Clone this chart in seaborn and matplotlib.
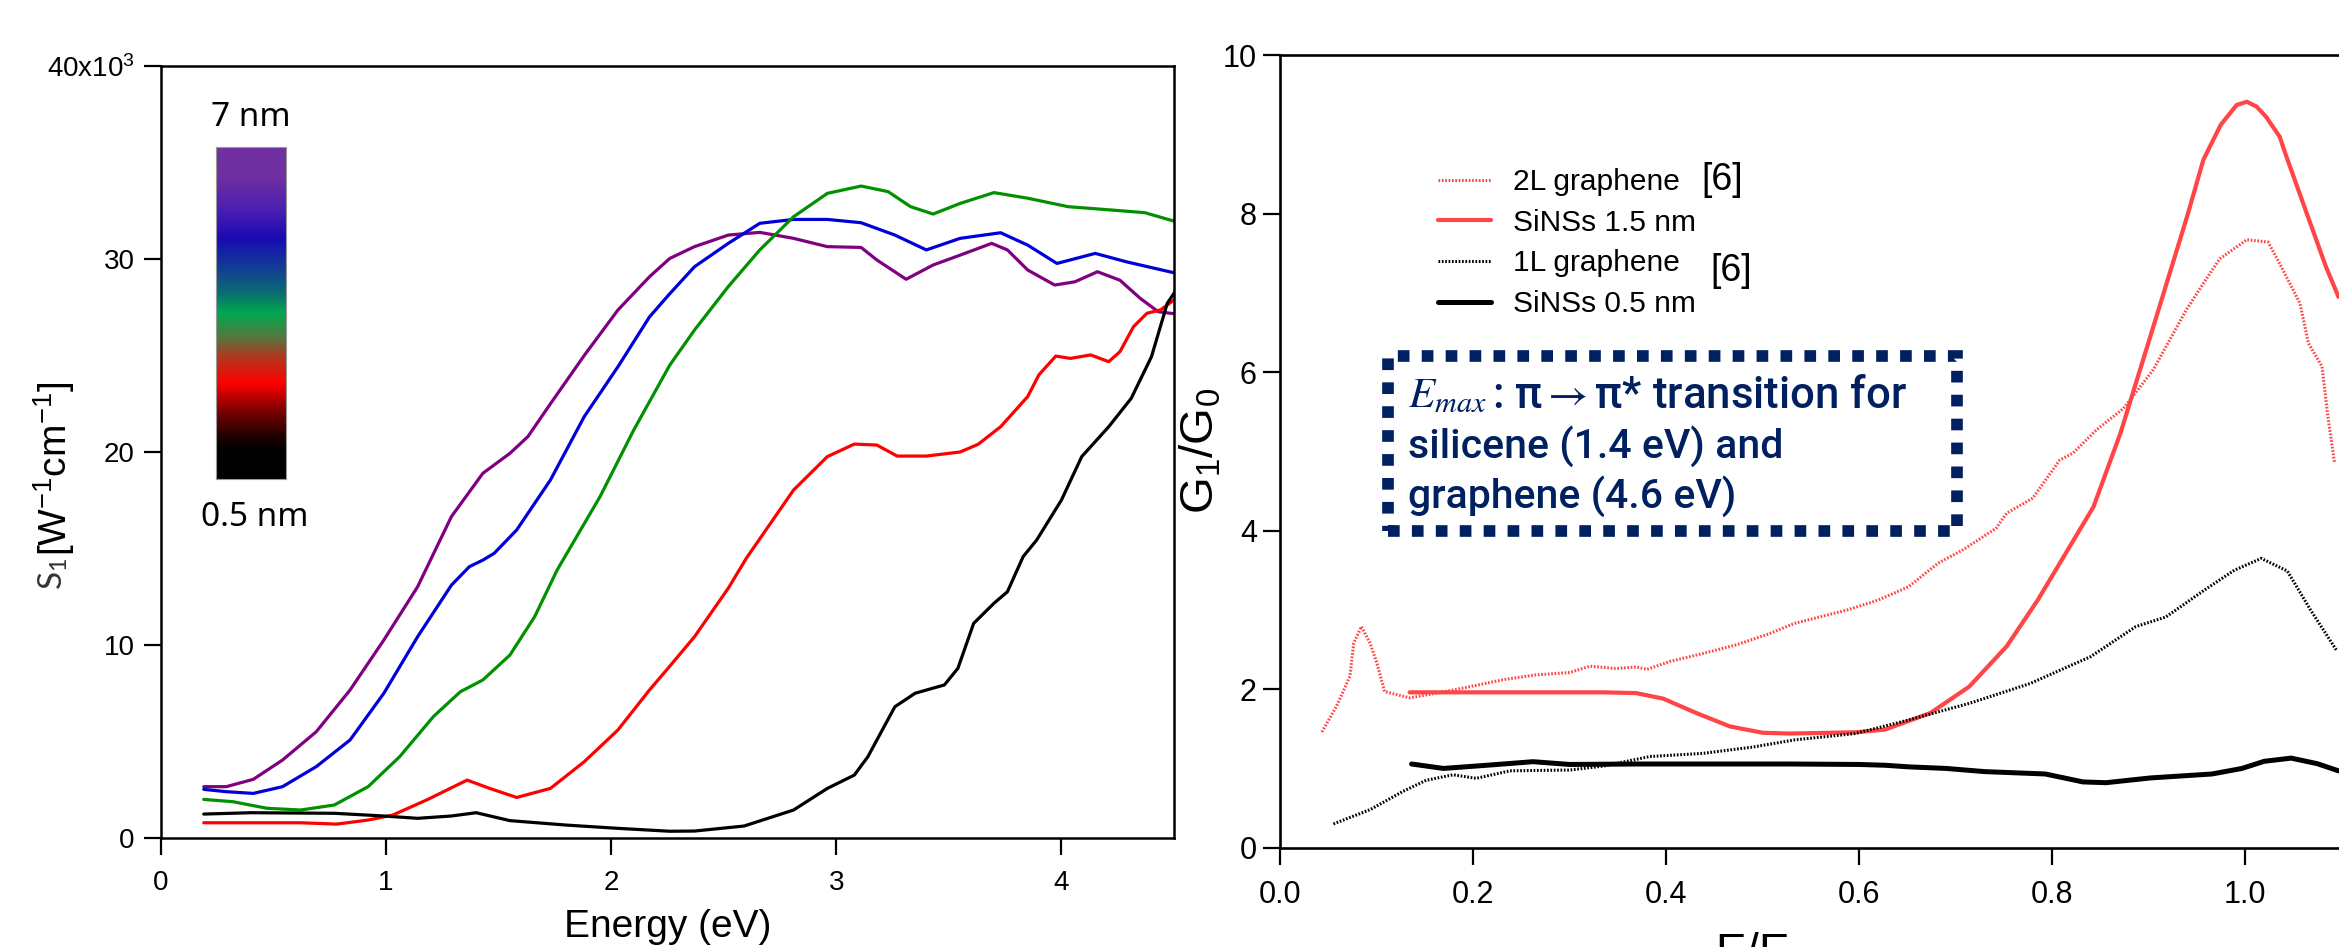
import numpy as np
import pandas as pd
import matplotlib
matplotlib.use("Agg")
import matplotlib.pyplot as plt
import seaborn as sns
from matplotlib.colors import LinearSegmentedColormap
from matplotlib.patches import Rectangle

# ---------------- data: left panel (S1, units of 10^3 W^-1 cm^-1) ----------------
e_7nm = [0.19, 0.29, 0.41, 0.54, 0.69, 0.84, 0.99, 1.14, 1.23, 1.29, 1.43, 1.55, 1.63, 1.73, 1.88,
         2.03, 2.17, 2.26, 2.37, 2.52, 2.66, 2.81, 2.96, 3.11, 3.18, 3.31, 3.43, 3.55, 3.69, 3.76,
         3.85, 3.97, 4.06, 4.16, 4.26, 4.35, 4.43, 4.51]
s_7nm = [2.66, 2.66, 3.04, 4.04, 5.51, 7.67, 10.26, 13.02, 15.2, 16.65, 18.9, 19.93, 20.8, 22.5, 25.0,
         27.36, 29.08, 30.03, 30.64, 31.24, 31.38, 31.07, 30.64, 30.6, 29.95, 28.95, 29.69, 30.2, 30.81, 30.47,
         29.43, 28.65, 28.82, 29.34, 28.9, 27.96, 27.27, 27.15]

e_blue = [0.19, 0.29, 0.41, 0.54, 0.69, 0.84, 0.99, 1.14, 1.29, 1.37, 1.43, 1.48, 1.58, 1.73, 1.88,
          2.03, 2.17, 2.26, 2.37, 2.52, 2.66, 2.81, 2.96, 3.11, 3.26, 3.40, 3.55, 3.73, 3.85, 3.98,
          4.15, 4.29, 4.51]
s_blue = [2.52, 2.40, 2.31, 2.66, 3.7, 5.08, 7.5, 10.43, 13.1, 14.06, 14.4, 14.75, 15.96, 18.55, 21.83,
          24.42, 27.0, 28.2, 29.6, 30.81, 31.85, 32.05, 32.05, 31.88, 31.24, 30.47, 31.07, 31.36, 30.72, 29.77,
          30.29, 29.85, 29.26]

e_green = [0.19, 0.32, 0.47, 0.62, 0.77, 0.92, 1.06, 1.21, 1.33, 1.43, 1.55, 1.66, 1.76, 1.95, 2.10,
           2.26, 2.37, 2.52, 2.66, 2.81, 2.96, 3.11, 3.23, 3.33, 3.43, 3.55, 3.70, 3.85, 4.03, 4.22,
           4.37, 4.51]
s_green = [2.0, 1.88, 1.54, 1.45, 1.71, 2.66, 4.21, 6.29, 7.58, 8.19, 9.48, 11.47, 13.89, 17.68, 21.14,
           24.5, 26.32, 28.57, 30.47, 32.19, 33.4, 33.78, 33.49, 32.71, 32.33, 32.88, 33.44, 33.15, 32.71, 32.54,
           32.4, 31.93]

e_red = [0.19, 0.40, 0.62, 0.78, 0.92, 1.03, 1.18, 1.36, 1.46, 1.58, 1.73, 1.88, 2.03, 2.17, 2.26,
         2.37, 2.52, 2.60, 2.81, 2.96, 3.08, 3.18, 3.27, 3.40, 3.55, 3.63, 3.73, 3.85, 3.90, 3.975,
         4.04, 4.13, 4.21, 4.26, 4.32, 4.38, 4.44, 4.51]
s_red = [0.79, 0.79, 0.79, 0.72, 0.93, 1.19, 1.97, 3.0, 2.57, 2.1, 2.57, 3.95, 5.6, 7.67, 8.9,
         10.43, 12.94, 14.49, 18.03, 19.76, 20.41, 20.36, 19.79, 19.79, 20.0, 20.4, 21.31, 22.87, 24.0, 24.97,
         24.85, 25.03, 24.68, 25.2, 26.49, 27.19, 27.36, 27.96]

e_black = [0.19, 0.40, 0.77, 0.99, 1.14, 1.29, 1.40, 1.55, 1.80, 2.03, 2.26, 2.37, 2.59, 2.81, 2.96,
           3.08, 3.14, 3.26, 3.35, 3.48, 3.54, 3.61, 3.70, 3.76, 3.83, 3.89, 4.00, 4.09, 4.21, 4.31,
           4.40, 4.47, 4.51]
s_black = [1.24, 1.31, 1.28, 1.14, 1.02, 1.14, 1.31, 0.9, 0.67, 0.5, 0.35, 0.36, 0.62, 1.45, 2.57,
           3.26, 4.21, 6.8, 7.5, 7.93, 8.79, 11.12, 12.16, 12.76, 14.58, 15.44, 17.51, 19.76, 21.31, 22.78,
           24.94, 27.7, 28.4]

left_series = [("7 nm", e_7nm, s_7nm, "#800080"),
               ("blue", e_blue, s_blue, "#0000d8"),
               ("green", e_green, s_green, "#009000"),
               ("red", e_red, s_red, "#ff0000"),
               ("0.5 nm", e_black, s_black, "#000000")]

left_xticks = [0, 1, 2, 3, 4]
left_yticks = [0, 10, 20, 30, 40]
left_ytick_labels = ["0", "10", "20", "30", r"40x10$^{3}$"]

# ---------------- data: right panel (G1/G0 vs E/Emax) ----------------
x_2l = [0.043, 0.058, 0.072, 0.076, 0.084, 0.093, 0.100, 0.108, 0.134, 0.162, 0.196, 0.231, 0.265, 0.300,
        0.321, 0.348, 0.369, 0.380, 0.404, 0.438, 0.473, 0.507, 0.533, 0.588, 0.619, 0.651, 0.682, 0.708,
        0.742, 0.753, 0.780, 0.808, 0.822, 0.846, 0.874, 0.905, 0.939, 0.957, 0.974, 1.002, 1.024, 1.036,
        1.057, 1.066, 1.080, 1.086, 1.093]
g_2l = [1.46, 1.78, 2.16, 2.58, 2.79, 2.58, 2.33, 1.97, 1.89, 1.95, 2.03, 2.12, 2.18, 2.21,
        2.29, 2.26, 2.28, 2.25, 2.35, 2.45, 2.56, 2.70, 2.83, 3.00, 3.12, 3.29, 3.59, 3.76,
        4.03, 4.22, 4.41, 4.89, 4.98, 5.27, 5.54, 6.03, 6.78, 7.12, 7.43, 7.67, 7.64, 7.37,
        6.87, 6.36, 6.07, 5.44, 4.85]

x_15 = [0.134, 0.231, 0.335, 0.369, 0.397, 0.431, 0.466, 0.500, 0.528, 0.596, 0.627, 0.674, 0.714, 0.753,
        0.785, 0.816, 0.843, 0.871, 0.905, 0.940, 0.957, 0.975, 0.9915, 1.002, 1.012, 1.022, 1.036, 1.043,
        1.063, 1.084, 1.097]
g_15 = [1.96, 1.96, 1.96, 1.95, 1.88, 1.70, 1.53, 1.45, 1.44, 1.456, 1.49, 1.70, 2.03, 2.54,
        3.12, 3.75, 4.30, 5.23, 6.57, 7.96, 8.68, 9.12, 9.37, 9.41, 9.35, 9.22, 8.97, 8.72,
        8.04, 7.33, 6.95]

x_1l = [0.055, 0.093, 0.127, 0.151, 0.179, 0.203, 0.238, 0.300, 0.335, 0.383, 0.438, 0.490, 0.533, 0.596,
        0.651, 0.714, 0.777, 0.840, 0.887, 0.918, 0.958, 0.989, 1.017, 1.044, 1.068, 1.095]
g_1l = [0.30, 0.48, 0.71, 0.85, 0.92, 0.875, 0.97, 0.98, 1.03, 1.15, 1.19, 1.27, 1.36, 1.44,
        1.61, 1.82, 2.07, 2.41, 2.79, 2.91, 3.25, 3.50, 3.65, 3.49, 3.00, 2.49]

x_05 = [0.136, 0.169, 0.214, 0.262, 0.300, 0.369, 0.528, 0.600, 0.627, 0.651, 0.690, 0.730, 0.793, 0.832,
        0.856, 0.902, 0.966, 0.997, 1.020, 1.048, 1.075, 1.097]
g_05 = [1.056, 1.00, 1.04, 1.085, 1.05, 1.056, 1.056, 1.05, 1.04, 1.02, 1.00, 0.96, 0.93, 0.83,
        0.82, 0.88, 0.93, 1.00, 1.09, 1.13, 1.06, 0.97]

right_labels = ["2L graphene", "SiNSs 1.5 nm", "1L graphene", "SiNSs 0.5 nm"]
right_xticks = [0.0, 0.2, 0.4, 0.6, 0.8, 1.0]
right_yticks = [0, 2, 4, 6, 8, 10]

box_head = r"$E_{max}$"
box_lines = [": π$\\rightarrow$π* transition for", "silicene (1.4 eV) and", "graphene (4.6 eV)"]

# ---------------- style ----------------
sns.set_style("ticks")
plt.rcParams.update({
    "font.family": ["Liberation Sans", "DejaVu Sans"],
    "mathtext.fontset": "custom",
    "mathtext.rm": "Liberation Sans",
    "mathtext.it": "Liberation Sans:italic",
    "mathtext.bf": "Liberation Sans:bold",
    "axes.edgecolor": "black",
    "axes.labelcolor": "black",
    "text.color": "black",
    "xtick.color": "black",
    "ytick.color": "black",
    "axes.linewidth": 1.8,
})

W, H = 2339, 947
fig = plt.figure(figsize=(W / 100, H / 100), dpi=100)
fig.patch.set_facecolor("white")

# ---------------- left panel ----------------
axL = fig.add_axes([161 / W, 1 - 838 / H, (1174 - 161) / W, (838 - 66) / H])
for name, xs, ys, col in left_series:
    df = pd.DataFrame({"E": xs, "S": ys})
    sns.lineplot(data=df, x="E", y="S", ax=axL, color=col, lw=2.3, sort=False, errorbar=None)
axL.set_xlim(0, 4.5)
axL.set_ylim(0, 40)
axL.set_xticks(left_xticks)
axL.set_xticklabels([str(t) for t in left_xticks])
axL.set_yticks(left_yticks)
axL.set_yticklabels(left_ytick_labels)
axL.set_xlabel("")
axL.set_ylabel("")
axL.tick_params(direction="out", length=12, width=1.6, labelsize=20, top=False, right=False)
axL.tick_params(axis="y", pad=7)
axL.tick_params(axis="x", pad=11)
for sp in axL.spines.values():
    sp.set_visible(True)
    sp.set_linewidth(1.8)

# colour scale bar (size legend)
cb_ax = fig.add_axes([216 / W, 1 - 479 / H, 70 / W, 332 / H])
cmap = LinearSegmentedColormap.from_list("size", [
    (0.0, "#000000"), (0.087, "#000000"), (0.127, "#200000"), (0.208, "#800000"),
    (0.288, "#ff0000"), (0.368, "#b03820"), (0.43, "#507a40"), (0.50, "#00a850"),
    (0.56, "#0a6e70"), (0.609, "#104e8a"), (0.726, "#1a0ab5"), (0.82, "#5020b0"),
    (0.916, "#7030a0"), (1.0, "#7030a0")])
cb_ax.imshow(np.linspace(0, 1, 256).reshape(-1, 1), origin="lower", aspect="auto",
             cmap=cmap, extent=[0, 1, 0, 1])
cb_ax.set_xticks([])
cb_ax.set_yticks([])
for sp in cb_ax.spines.values():
    sp.set_color("#999999")
    sp.set_linewidth(0.8)
fig.text(251 / W, 1 - 118 / H, "7 nm", ha="center", va="center", fontsize=24, family="Noto Sans")
fig.text(255 / W, 1 - 518 / H, "0.5 nm", ha="center", va="center", fontsize=24, family="Noto Sans")

fig.text(667.5 / W, 1 - 909 / H, "Energy (eV)", ha="center", va="top", fontsize=28)
fig.text(54 / W, 1 - 556 / H, r"[W$^{-1}$cm$^{-1}$]", rotation=90, ha="center", va="bottom", fontsize=28)
fig.text(53 / W, 1 - 558 / H, r"$\mathregular{S_1}$", rotation=90, ha="center", va="top",
         fontsize=24, family="Lato", color="#333333")

# ---------------- right panel ----------------
axR = fig.add_axes([1280.4 / W, 1 - 847.7 / H, 1157.4 / W, (847.7 - 55) / H])
right_data = [(x_2l, g_2l, "#ff4545", 2.2, (0, (0.55, 0.55))),
              (x_15, g_15, "#ff4545", 3.0, "-"),
              (x_1l, g_1l, "#000000", 2.2, (0, (0.55, 0.55))),
              (x_05, g_05, "#000000", 3.6, "-")]
for (xs, ys, col, lw, ls), lab in zip(right_data, right_labels):
    df = pd.DataFrame({"x": xs, "g": ys})
    sns.lineplot(data=df, x="x", y="g", ax=axR, color=col, lw=lw, linestyle=ls,
                 sort=False, errorbar=None, label=lab)
axR.set_xlim(0, 1.2)
axR.set_ylim(0, 10)
axR.set_xticks(right_xticks)
axR.set_xticklabels([f"{t:.1f}" for t in right_xticks])
axR.set_yticks(right_yticks)
axR.set_yticklabels([str(t) for t in right_yticks])
axR.set_xlabel("")
axR.set_ylabel("")
axR.tick_params(direction="out", length=12, width=1.6, labelsize=22, top=False, right=False)
axR.tick_params(axis="y", pad=5)
axR.tick_params(axis="x", pad=11)
for sp in axR.spines.values():
    sp.set_visible(True)
    sp.set_linewidth(1.9)

handles = axR.get_lines()[:4]
leg = axR.legend(handles, right_labels, loc="upper left", bbox_to_anchor=(0.1359, 0.857),
                 frameon=False, borderaxespad=0, borderpad=0, handlelength=1.8,
                 handletextpad=0.72, labelspacing=0.42,
                 prop={"family": "Liberation Sans", "size": 21.5})
fig.text(1701.7 / W, 1 - 180 / H, "[6]", ha="left", va="center", fontsize=27)
fig.text(1710 / W, 1 - 270.7 / H, "[6]", ha="left", va="center", fontsize=27)

# annotation box
navy = "#002060"
axR.add_patch(Rectangle((0.112, 3.99), 0.5895, 2.21, fill=False, ec=navy, lw=8.4,
                        linestyle=(0, (1, 1.05)), capstyle="butt", joinstyle="miter", zorder=5))
axR.text(0.132, 5.55, box_head, ha="left", va="baseline", fontsize=31, color=navy,
         math_fontfamily="stix", zorder=6)
axR.text(0.2195, 5.55, box_lines[0], ha="left", va="baseline", fontsize=31.5, color=navy,
         family=["Roboto", "DejaVu Sans"], weight="medium", math_fontfamily="stix", zorder=6)
for txt, yb in zip(box_lines[1:], [4.92, 4.29]):
    axR.text(0.132, yb, txt, ha="left", va="baseline", fontsize=29.5, color=navy,
             family=["Roboto", "DejaVu Sans"], weight="medium", zorder=6)

fig.text(1201 / W, 1 - 451 / H, r"G$_1$/G$_0$", rotation=90, ha="center", va="center", fontsize=34)
fig.text(1715 / W, 1 - 931 / H, r"E/E$_{max}$", ha="left", va="top", fontsize=33)

fig.savefig("out.png", dpi=100, facecolor="white")
